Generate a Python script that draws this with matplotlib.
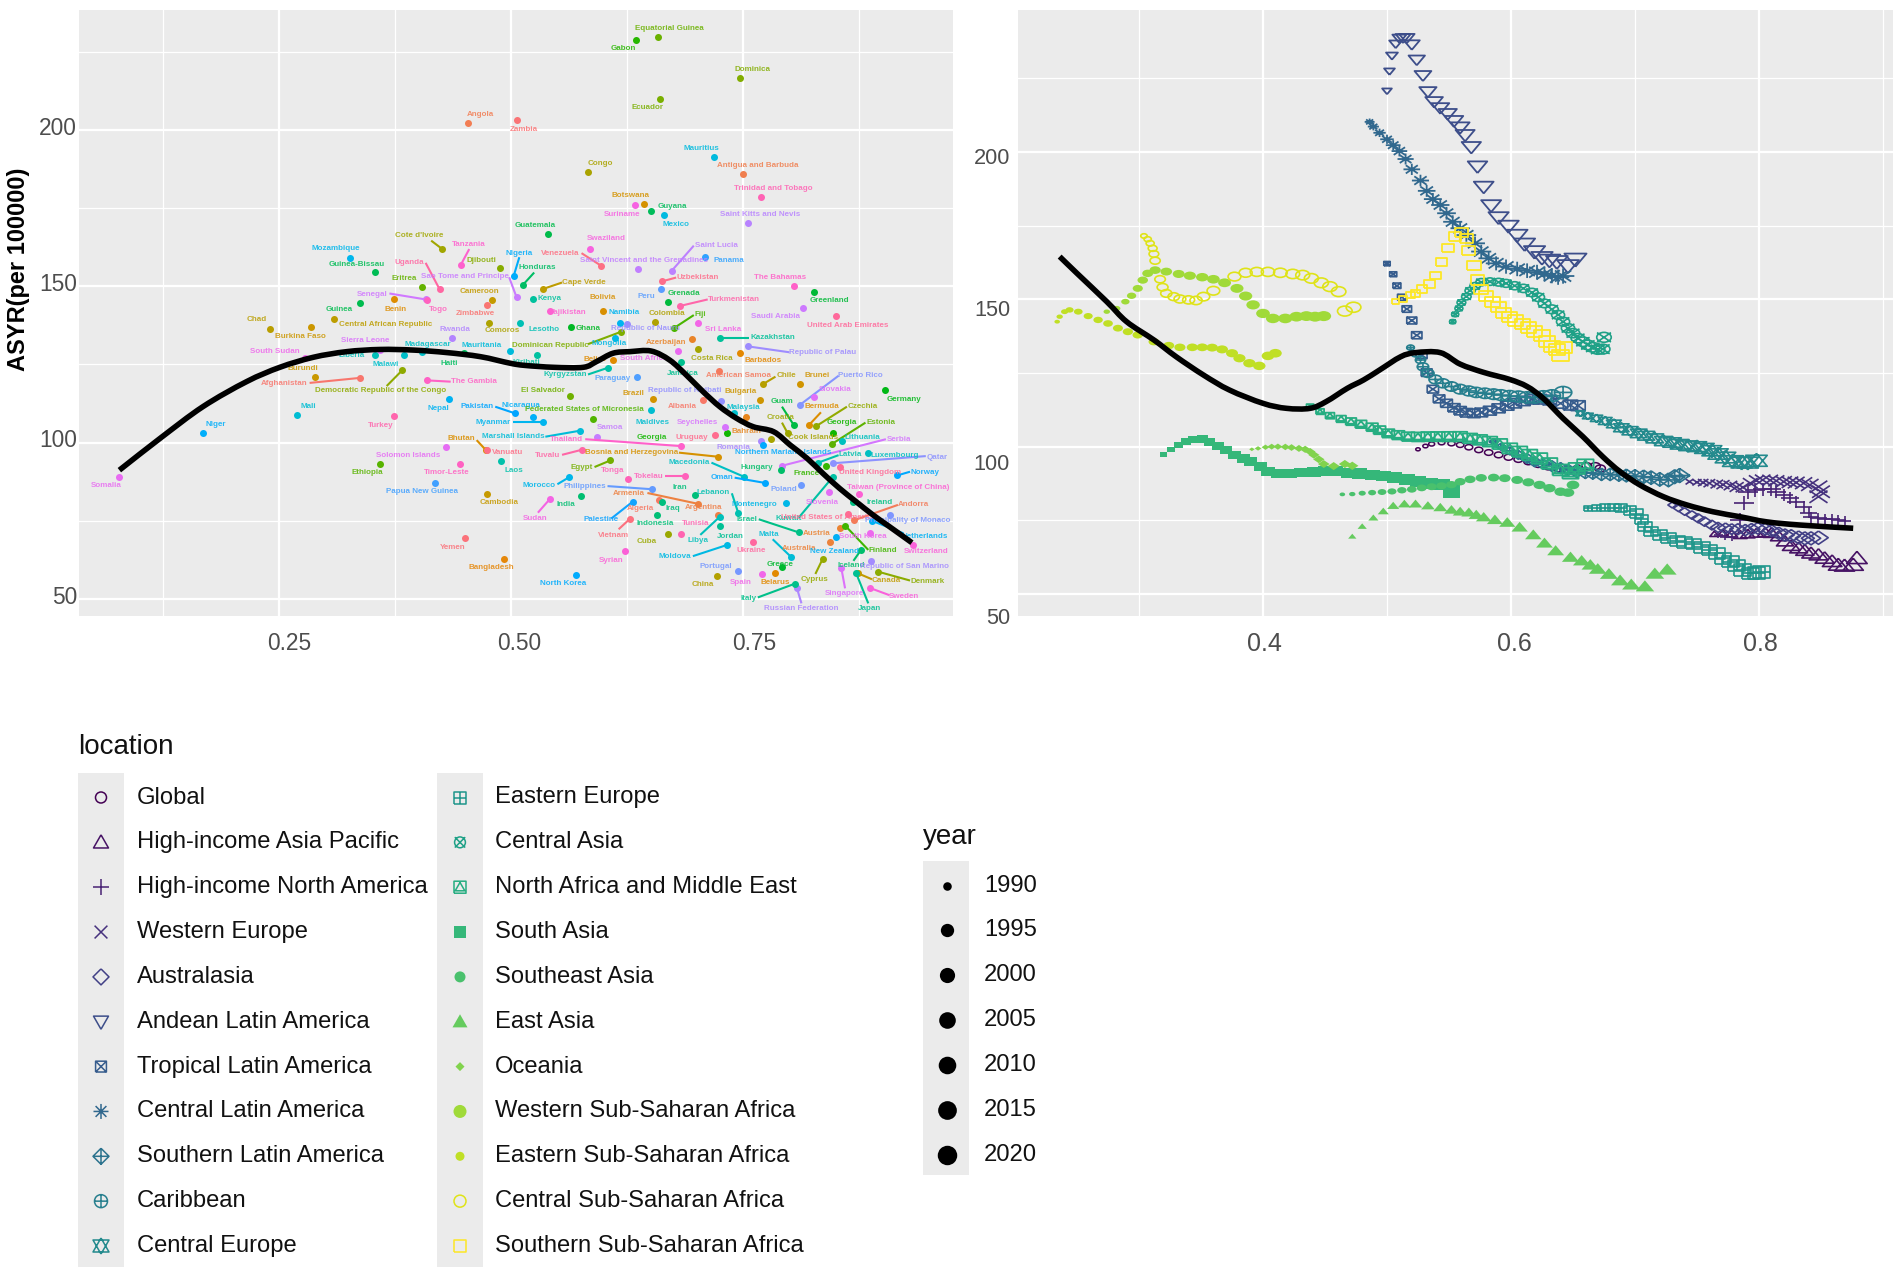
import numpy as np
import matplotlib
matplotlib.use("Agg")
import matplotlib.pyplot as plt
from matplotlib.path import Path
from matplotlib.patches import Rectangle, PathPatch

plt.rcParams['font.family'] = ['Liberation Sans', 'DejaVu Sans']

# ---------------- left panel: countries ----------------
country_names = [
 "Angola","Zambia","Cote d'Ivoire","Tanzania","Mozambique",
 "Guinea-Bissau","Uganda","Djibouti","Nigeria","Eritrea",
 "Sao Tome and Principe","Honduras","Senegal","Benin","Togo",
 "Cameroon","Guinea","Zimbabwe","Chad","Burkina Faso",
 "Central African Republic","Comoros","Rwanda","Lesotho","Kenya",
 # block 2
 "Equatorial Guinea","Gabon","Dominica","Ecuador","Mauritius",
 "Congo","Antigua and Barbuda","Trinidad and Tobago","Botswana","Suriname",
 "Guyana","Mexico","Saint Kitts and Nevis","Guatemala","Swaziland",
 "Venezuela","Saint Lucia","Panama","Saint Vincent and the Grenadines","Uzbekistan",
 "The Bahamas","Greenland","Cape Verde","Peru","Grenada",
 "Bolivia","Turkmenistan","Saudi Arabia","United Arab Emirates","Tajikistan",
 "Namibia","Colombia","Fiji","Sri Lanka","Ghana",
 "Republic of Nauru","Kazakhstan",
 # block 3
 "South Sudan","Sierra Leone","Burundi","Afghanistan","Liberia",
 "Madagascar","Malawi","Democratic Republic of the Congo","Mauritania","Haiti",
 "The Gambia","Kiribati","Dominican Republic","Mongolia","Belize",
 "Mali","Niger","Somalia","Turkey","Nepal",
 "Pakistan","Nicaragua","Myanmar","Federated States of Micronesia","El Salvador",
 "Kyrgyzstan","Paraguay","Bhutan","Vanuatu","Marshall Islands",
 "Solomon Islands","Laos","Ethiopia","Timor-Leste","Papua New Guinea",
 "Cambodia","Yemen","Bangladesh",
 # block 4
 "Azerbaijan","Costa Rica","Republic of Palau","Barbados","South Africa",
 "Jamaica","American Samoa","Chile","Brunei","Puerto Rico",
 "Slovakia","Germany","Brazil","Republic of Kiribati","Bulgaria",
 "Albania","Malaysia","Bahrain","Guam","Bermuda",
 "Czechia","Croatia","Georgia","Estonia","Georgia",
 "Uruguay","Seychelles","Maldives","Samoa","Thailand",
 "Cook Islands","Lithuania","Serbia","Romania","Northern Mariana Islands",
 "Bosnia and Herzegovina","Tuvalu","Egypt","Tonga","Macedonia",
 "Hungary","Latvia","France","Luxembourg","Qatar",
 "Norway","United Kingdom","Oman","Tokelau","Morocco",
 "Philippines","India","Iran","Lebanon","Poland",
 "Taiwan (Province of China)","Slovenia","Sudan","Armenia","Argentina",
 "Montenegro","Palestine","Vietnam","Algeria","Iraq",
 "Indonesia","Tunisia","Cuba","Syrian","Libya",
 "Jordan","Moldova","Israel","Kuwait","United States of America",
 "Austria","Malta","Ukraine","Australia","South Korea",
 "Finland","Ireland","Andorra","Principality of Monaco","Netherlands",
 "Switzerland","New Zealand","Iceland","Republic of San Marino","Denmark",
 "Canada","Japan","Sweden","Singapore","Russian Federation",
 "Italy","Cyprus","Greece","Belarus","Spain",
 "Portugal","China","North Korea",
]
country_sdi = [
 .454,.506,.426,.446,.326, .353,.423,.488,.503,.404,
 .506,.513,.408,.374,.409, .480,.337,.474,.240,.285,
 .309,.476,.436,.510,.524,
 .658,.635,.747,.661,.719, .583,.750,.769,.643,.634,
 .651,.665,.755,.540,.585, .597,.673,.709,.637,.663,
 .805,.826,.534,.662,.669, .599,.682,.815,.850,.542,
 .618,.655,.676,.702,.565, .625,.725,
 .278,.359,.289,.337,.353, .404,.385,.383,.499,.449,
 .410,.528,.619,.612,.610, .269,.168,.078,.374,.433,
 .504,.524,.534,.588,.564, .604,.636,.473,.474,.574,
 .430,.489,.359,.445,.418, .474,.450,.492,
 .695,.701,.755,.747,.680, .683,.724,.772,.811,.811,
 .826,.903,.653,.726,.768, .707,.740,.753,.805,.821,
 .829,.798,.847,.846,.733, .720,.731,.651,.593,.683,
 .780,.857,.792,.769,.772, .723,.576,.607,.626,.751,
 .791,.831,.839,.885,.847, .916,.854,.774,.687,.563,
 .652,.575,.698,.745,.812, .875,.843,.542,.702,.723,
 .796,.631,.628,.660,.663, .657,.683,.669,.623,.725,
 .725,.733,.810,.847,.863, .854,.802,.761,.844,.887,
 .860,.869,.870,.908,.889, .933,.850,.877,.888,.896,
 .874,.872,.887,.856,.808, .806,.836,.792,.785,.770,
 .745,.722,.570,
]
country_asyr = [
 202.2,203.2,161.9,156.9,158.9, 154.6,149.1,155.7,153.4,149.7,
 146.5,150.5,145.8,146.0,145.6, 145.5,144.7,143.9,136.5,136.9,
 139.4,138.3,133.5,138.4,145.9,
 229.6,228.8,216.5,209.8,191.4, 186.6,185.8,178.6,176.3,175.9,
 174.2,172.8,170.2,166.6,161.8, 156.6,154.9,159.3,155.5,151.6,
 150.1,148.3,149.1,149.0,145.1, 142.2,143.7,143.1,140.5,142.1,
 138.4,138.7,136.7,138.4,137.1, 138.0,133.5,
 127.2,129.6,121.1,120.7,127.9, 129.1,127.9,123.2,129.3,128.6,
 119.9,128.1,135.5,133.4,126.4, 108.8,103.1,89.1,108.6,114.0,
 109.4,108.3,106.7,107.7,114.9, 123.9,121.0,97.6,97.6,103.8,
 98.5,94.1,93.3,93.2,87.2, 83.7,69.5,62.8,
 133.2,129.9,130.8,128.7,129.2, 125.9,123.0,118.8,118.8,112.0,
 114.5,116.7,114.1,113.3,113.7, 113.6,109.4,108.3,105.5,105.6,
 105.3,103.1,103.2,99.6,103.2, 102.4,104.9,110.4,101.8,98.9,
 101.1,100.6,92.6,100.6,99.2, 95.5,97.7,94.3,88.4,89.1,
 91.2,93.6,92.5,96.6,93.4, 89.5,92.2,87.1,89.2,89.0,
 85.1,82.8,83.1,77.4,86.3, 83.7,84.1,82.0,80.4,76.9,
 80.6,81.1,75.6,81.7,80.9, 76.9,70.9,70.7,65.3,76.3,
 73.2,67.3,71.3,89.1,77.1, 72.7,63.4,68.3,68.3,71.0,
 73.5,81.1,75.2,76.9,75.0, 67.3,69.7,65.6,62.1,58.7,
 58.2,58.2,53.5,59.8,53.6, 54.9,62.9,60.1,58.4,58.1,
 59.1,57.5,57.8,
]
label_x = [
 .467,.514,.401,.454,.311, .334,.390,.468,.509,.385,
 .450,.528,.350,.376,.422, .466,.315,.462,.226,.273,
 .365,.491,.440,.536,.542,
 .671,.621,.760,.647,.705, .596,.766,.783,.629,.620,
 .674,.678,.768,.526,.603, .553,.721,.735,.643,.701,
 .790,.843,.578,.646,.686, .599,.740,.785,.863,.562,
 .622,.668,.704,.729,.583, .645,.782,
 .246,.343,.276,.256,.328, .410,.365,.359,.468,.434,
 .460,.517,.542,.606,.590, .282,.182,.064,.360,.422,
 .463,.511,.481,.579,.534, .559,.609,.446,.496,.503,
 .389,.503,.345,.431,.404, .487,.437,.479,
 .667,.716,.836,.772,.643, .685,.745,.797,.830,.877,
 .849,.924,.632,.687,.747, .685,.750,.754,.792,.835,
 .879,.790,.856,.899,.652, .695,.701,.652,.607,.560,
 .826,.879,.918,.740,.793, .630,.539,.576,.610,.692,
 .765,.865,.819,.913,.959, .946,.887,.727,.648,.530,
 .580,.559,.682,.718,.794, .917,.835,.526,.627,.708,
 .762,.597,.610,.639,.674, .655,.699,.646,.608,.701,
 .736,.677,.754,.799,.842, .829,.778,.759,.810,.879,
 .901,.897,.934,.928,.946, .947,.849,.867,.924,.949,
 .904,.886,.923,.859,.813, .756,.827,.790,.785,.748,
 .721,.707,.556,
]
label_y = [
 204.9,200.2,166.2,163.4,162.1, 157.1,157.7,158.3,160.6,152.4,
 153.1,155.9,147.4,142.7,142.7, 148.4,142.5,141.3,139.5,134.1,
 137.8,136.0,136.2,136.2,146.1,
 232.4,225.9,219.3,207.1,194.0, 189.2,188.7,181.4,179.0,173.1,
 175.6,169.9,173.1,169.3,165.2, 160.6,163.1,158.1,158.4,152.8,
 152.8,145.3,151.2,146.6,147.7, 146.3,145.8,140.3,137.5,141.6,
 141.6,141.2,140.9,136.2,136.6, 136.6,133.5,
 129.1,132.8,123.8,118.8,127.8, 131.5,125.1,116.6,131.0,125.4,
 119.4,125.6,131.2,131.7,126.6, 111.6,105.9,86.3,105.6,111.0,
 111.5,112.0,106.6,110.6,116.8, 121.8,120.6,101.3,96.9,101.9,
 96.0,91.2,90.3,90.3,84.4, 80.7,66.6,60.0,
 131.9,126.9,128.8,126.2,126.8, 122.2,121.6,121.6,121.6,121.6,
 116.9,113.7,115.7,116.6,116.5, 111.6,111.3,103.5,113.1,111.6,
 111.6,108.2,106.5,106.5,101.6, 101.7,106.6,106.6,104.7,101.1,
 101.6,101.6,101.1,98.5,96.9, 96.9,96.0,91.9,91.2,93.7,
 92.2,96.3,90.1,95.9,95.4, 90.6,90.6,88.8,89.1,86.2,
 86.0,80.1,85.7,84.0,85.1, 85.7,81.0,75.7,83.8,79.4,
 80.3,75.5,70.3,79.0,78.8, 74.1,74.1,68.5,62.2,68.8,
 70.0,63.5,75.4,75.9,76.0, 71.0,70.7,65.4,66.0,70.1,
 65.5,80.7,80.1,75.0,70.1, 65.1,65.3,60.8,60.3,55.7,
 55.9,46.9,50.7,51.6,46.9, 50.3,56.2,61.0,55.3,55.3,
 60.3,54.5,54.8,
]
leader_end = {
 "Cote d'Ivoire":(.414,164.6),"Tanzania":(.455,161.9),"Uganda":(.408,157.5),"Nigeria":(.509,159.3),
 "Sao Tome and Principe":(.498,152.9),"Honduras":(.525,154.4),"Senegal":(.369,147.7),
 "Venezuela":(.576,160.6),"Saint Lucia":(.697,163.0),"Uzbekistan":(.678,152.8),"Cape Verde":(.555,151.2),
 "Turkmenistan":(.712,145.8),"Fiji":(.697,140.8),"Kazakhstan":(.757,133.5),
 "Afghanistan":(.283,119.1),"Democratic Republic of the Congo":(.366,118.1),"The Gambia":(.435,119.5),
 "Dominican Republic":(.583,131.5),"Pakistan":(.483,111.5),"Myanmar":(.502,106.7),"Kyrgyzstan":(.583,121.8),
 "Bhutan":(.463,100.8),"Marshall Islands":(.537,101.9),
 "Republic of Palau":(.800,128.9),"Chile":(.785,121.1),"Puerto Rico":(.853,121.4),"Guam":(.792,111.5),
 "Bermuda":(.834,109.7),"Czechia":(.862,111.5),"Croatia":(.792,106.4),"Estonia":(.882,106.4),
 "Thailand":(.580,101.1),"Serbia":(.904,101.1),"Bosnia and Herzegovina":(.681,96.8),"Tuvalu":(.555,96.1),
 "Egypt":(.590,92.2),"Macedonia":(.716,93.6),"Latvia":(.853,96.0),"Qatar":(.947,95.7),"Norway":(.930,90.7),
 "Oman":(.741,88.8),"Tokelau":(.666,89.2),"Morocco":(.550,86.7),"Philippines":(.604,86.1),"Lebanon":(.738,83.8),
 "Sudan":(.529,77.6),"Armenia":(.647,83.9),"Palestine":(.608,75.7),"Vietnam":(.616,72.3),"Libya":(.704,70.5),
 "Moldova":(.696,63.7),"Israel":(.767,75.5),"Kuwait":(.810,76.0),"Malta":(.782,69.1),"Finland":(.885,65.7),
 "Andorra":(.917,80.1),"Netherlands":(.923,71.0),"Iceland":(.869,62.2),"Denmark":(.930,55.9),"Canada":(.889,56.3),
 "Japan":(.885,48.6),"Sweden":(.908,51.2),"Singapore":(.860,53.4),"Russian Federation":(.813,48.6),"Italy":(.766,50.5),
 "Cyprus":(.828,58.0),
}
left_curve_x = [.078,.122,.168,.215,.251,.287,.323,.359,.395,.431,.467,.499,.515,.546,.578,.592,.610,.628,.651,.671,
                .689,.707,.725,.743,.761,.783,.801,.819,.836,.854,.872,.890,.908,.932]
left_curve_y = [91.2,101.4,111.5,119.5,124.1,127.3,129.1,129.8,129.6,128.8,127.5,125.4,124.7,124.1,124.1,125.9,128.6,129.1,129.3,126.4,
                121.6,116.3,111.5,107.8,105.1,103.5,99.2,95.0,90.2,85.4,81.1,76.9,73.1,68.0]

# ---------------- right panel: regions ----------------
global_x = [.525,.531,.536,.544,.552,.559,.566,.574,.582,.590,.598,.606,.614,.622,.630,.638,.646,.654,.661,.668,.672]
global_y = [99.1,100.2,100.9,101.4,101.1,100.6,99.8,98.9,98.0,97.2,96.4,95.7,94.9,94.0,93.2,92.6,92.1,92.6,93.4,93.4,92.6]
hi_asia_x = [.764,.771,.778,.785,.791,.798,.805,.810,.816,.821,.826,.832,.837,.842,.848,.853,.859,.864,.869,.876,.879]
hi_asia_y = [70.3,70.6,70.3,70.0,70.3,70.6,70.8,70.6,69.5,67.8,66.3,65.5,64.7,63.8,63.2,62.1,61.0,59.8,59.5,59.8,62.1]
hi_na_x = [.767,.773,.778,.869,.864,.859,.853,.848,.842,.840,.836,.830,.825,.820,.814,.810,.803,.797,.791,.785,.788]
hi_na_y = [70.0,69.5,69.3,74.8,75.1,75.3,75.5,75.7,76.0,77.6,79.6,81.3,82.5,83.6,84.7,85.5,85.5,85.3,84.7,75.1,80.8]
w_europe_x = [.744,.750,.755,.760,.766,.771,.777,.782,.787,.793,.798,.803,.809,.814,.820,.825,.830,.836,.841,.848,.850,.848]
w_europe_y = [88.1,87.9,87.8,87.6,87.3,87.1,86.8,86.3,86.2,87.6,88.5,88.7,88.6,88.4,88.1,87.9,87.8,87.6,87.0,86.4,84.7,83.0]
australasia_x = [.730,.735,.740,.746,.751,.756,.762,.767,.773,.778,.783,.789,.794,.799,.805,.810,.816,.821,.826,.832,.837,.842,.848]
australasia_y = [80.2,79.1,78.0,76.8,75.7,74.6,73.4,72.6,72.3,72.0,72.0,71.7,72.0,72.3,72.0,71.5,70.6,70.0,69.7,69.2,68.9,68.9,69.1]
andean_x = [.500,.502,.504,.507,.510,.513,.516,.520,.524,.529,.533,.538,.543,.549,.554,.559,.563,.568,.573,.578,.584,
            .590,.598,.605,.611,.619,.625,.631,.637,.646,.652]
andean_y = [220.7,227.4,232.7,236.7,238.6,238.7,238.7,236.5,231.3,226.0,220.5,217.1,215.0,213.0,210.6,208.4,205.8,201.7,195.1,188.2,181.9,
            177.8,174.9,171.8,168.8,166.2,164.2,163.3,162.8,161.4,163.6]
tropical_x = [.500,.505,.508,.512,.516,.520,.524,.528,.532,.537,.542,.548,.554,.559,.564,.570,.576,.583,.590,.597,.603,.610,.617,.623,.631,.640,.648,.654]
tropical_y = [162.1,158.5,154.6,150.7,146.7,142.8,137.8,131.1,125.1,119.5,116.2,114.7,113.2,112.2,111.5,111.3,111.6,112.2,113.0,113.9,114.7,115.5,116.1,116.1,115.8,114.7,114.1,113.9]
central_la_x = [.486,.489,.494,.500,.505,.510,.515,.520,.527,.532,.537,.543,.548,.553,.559,.564,.571,.576,.582,.588,.596,.605,.613,.621,.627,.633,.638,.642]
central_la_y = [210.2,208.6,206.5,204.3,202.3,200.3,197.6,194.1,190.3,186.8,184.0,182.0,179.2,176.3,174.1,171.8,169.0,166.2,163.9,162.2,161.1,160.3,159.7,159.2,158.6,158.0,157.5,157.9]
southern_la_x = [.586,.592,.599,.606,.613,.619,.626,.633,.640,.646,.653,.660,.666,.673,.680,.687,.693,.700,.707,.713,.720,.727,.732,.736]
southern_la_y = [101.7,100.0,98.6,97.2,96.0,94.9,94.1,93.4,92.7,92.1,91.5,91.2,91.0,90.6,90.6,90.4,90.2,90.0,89.8,89.5,88.9,88.7,89.8,90.2]
caribbean_x = [.519,.523,.527,.529,.533,.539,.545,.552,.559,.566,.572,.579,.586,.592,.599,.606,.613,.619,.626,.633,.642]
caribbean_y = [133.6,131.5,129.4,127.1,124.9,122.8,121.5,120.4,119.5,118.9,118.4,118.1,117.8,117.5,117.2,117.0,116.7,116.7,117.0,117.3,118.4]
c_europe_x = [.656,.662,.669,.676,.683,.689,.696,.703,.709,.716,.723,.730,.736,.743,.750,.756,.762,.767,.773,.779,.786,.791,.798]
c_europe_y = [111.3,110.4,109.6,108.7,107.7,106.4,105.4,104.5,103.7,102.8,101.9,101.4,100.8,100.3,100.0,99.4,98.6,97.5,96.3,95.1,94.6,94.6,95.2]
e_europe_x = [.662,.669,.676,.683,.689,.696,.701,.705,.708,.713,.720,.727,.734,.740,.747,.754,.760,.766,.771,.777,.782,.787,.793,.798,.802]
e_europe_y = [79.1,79.1,79.3,79.3,79.1,78.3,77.2,75.3,72.9,71.2,70.0,68.9,68.1,67.5,66.9,65.8,64.9,63.8,62.1,61.0,59.6,58.2,57.0,57.0,57.6]
c_asia_x = [.553,.555,.558,.560,.564,.567,.571,.576,.583,.590,.596,.603,.610,.617,.622,.627,.633,.638,.642,.646,.650,.654,.658,.662,.666,.670,.674,.675]
c_asia_y = [142.4,144.9,146.9,148.9,150.9,152.9,154.5,155.8,156.0,155.8,155.4,154.6,153.7,152.3,150.7,148.6,146.6,144.7,142.4,140.2,138.5,136.8,135.6,134.5,133.7,133.0,133.1,137.1]
name_x = [.438,.446,.454,.463,.471,.479,.488,.494,.501,.509,.517,.525,.533,.541,.550,.559,.567,.575,.583,.591,.599,.607,.615,.623,.631,.640,.648,.653,.660]
name_y = [113.6,111.9,110.5,109.4,108.5,107.6,106.6,105.6,104.5,103.9,103.4,103.3,103.4,103.4,103.4,103.4,102.8,102.3,101.7,100.9,99.4,98.3,97.2,96.0,94.3,92.1,91.0,92.6,93.8]
s_asia_x = [.320,.326,.332,.338,.344,.351,.357,.364,.370,.377,.384,.390,.398,.404,.412,.422,.431,.441,.450,.459,.469,.478,.488,.497,.506,.516,.525,.535,.544,.552,.552]
s_asia_y = [97.2,99.1,100.5,101.7,102.3,102.5,101.7,100.2,98.9,97.2,96.0,94.9,93.2,91.5,90.9,90.9,91.2,91.5,91.7,91.7,91.2,90.9,90.4,90.0,89.6,88.9,88.3,87.6,87.0,85.9,84.4]
se_asia_x = [.464,.472,.480,.488,.496,.504,.512,.520,.528,.536,.544,.552,.559,.567,.576,.586,.595,.605,.614,.623,.631,.640,.646,.650]
se_asia_y = [83.8,83.9,84.2,84.4,84.6,84.8,85.2,85.5,86.0,86.4,86.7,87.1,88.1,88.9,89.4,89.5,89.3,88.7,87.9,87.0,85.9,84.7,84.4,87.0]
e_asia_x = [.472,.480,.489,.497,.505,.514,.523,.533,.543,.552,.559,.566,.572,.578,.587,.597,.607,.618,.627,.636,.648,.657,.664,.670,.679,.688,.697,.708,.716,.726]
e_asia_y = [69.5,72.9,75.8,78.0,79.9,80.5,80.5,79.9,79.3,78.5,77.9,77.6,76.8,76.0,75.1,74.2,72.6,70.0,67.2,64.6,62.4,61.2,59.8,58.4,56.7,54.5,53.1,52.5,56.8,58.2]
oceania_x = [.391,.396,.402,.407,.412,.418,.423,.429,.434,.438,.441,.445,.449,.457,.466,.472]
oceania_y = [99.1,99.4,99.8,100.0,100.0,99.9,99.7,99.4,99.1,98.3,97.2,95.7,94.1,93.4,94.1,93.5]
w_ssa_x = [.274,.282,.289,.294,.299,.303,.307,.313,.322,.332,.341,.351,.360,.369,.379,.386,.392,.400,.408,.418,.427,.435,.442,.449]
w_ssa_y = [145.8,146.9,149.2,151.2,153.7,156.5,158.8,159.9,159.4,158.6,158.0,157.5,156.8,155.6,153.7,151.1,148.1,145.2,143.5,143.5,144.1,144.3,144.1,144.3]
e_ssa_x = [.234,.236,.240,.244,.251,.259,.267,.275,.283,.291,.299,.312,.324,.333,.343,.351,.359,.367,.375,.381,.389,.397,.404,.410]
e_ssa_y = [142.4,144.1,145.8,146.4,145.8,144.3,143.0,141.8,140.2,139.0,137.9,135.6,134.3,133.7,133.7,133.7,133.6,133.0,131.7,130.0,128.3,127.4,130.8,131.7]
c_ssa_x = [.304,.307,.309,.311,.312,.313,.317,.319,.322,.328,.333,.340,.346,.352,.360,.377,.386,.395,.404,.414,.424,.432,.439,.447,.454,.461,.466,.473]
c_ssa_y = [171.5,170.4,169.0,167.3,165.4,163.1,156.8,154.1,152.0,150.9,150.1,149.8,149.6,150.9,152.9,157.7,159.0,159.3,159.3,159.0,158.6,158.2,157.1,155.6,154.3,152.6,146.0,147.3]
s_ssa_x = [.507,.513,.519,.523,.528,.534,.539,.544,.549,.555,.560,.564,.566,.570,.573,.576,.580,.585,.590,.594,.599,.604,.609,.614,.619,.625,.629,.633,.637,.643,.640]
s_ssa_y = [149.2,150.1,151.5,152.0,153.5,155.2,158.1,162.5,167.4,171.3,172.7,170.7,166.6,161.4,156.6,153.4,151.1,149.1,147.3,145.2,143.9,142.8,141.6,140.5,139.0,137.6,135.6,133.9,132.8,133.6,130.8]
right_curve_x = [.236,.250,.274,.290,.312,.330,.352,.373,.400,.419,.438,.451,.468,.481,.494,.511,.523,.543,.559,.578,.599,.613,.626,.642,.658,.674,.688,.704,.723,.742,.763,.785,.806,.833,.876]
right_curve_y = [164.5,158.8,149.2,142.4,136.2,130.5,124.3,119.2,114.7,113.0,113.0,115.3,119.8,122.6,126.0,130.5,131.9,131.9,128.0,125.2,122.8,120.4,116.4,109.6,103.4,96.6,91.5,87.0,83.0,80.2,77.9,76.2,74.5,73.4,72.3]

legend_years = [1990,1995,2000,2005,2010,2015,2020]
left_yticks = [50,100,150,200]
left_xticks = [0.25,0.50,0.75]
right_yticks = [50,100,150,200]
right_xticks = [0.4,0.6,0.8]

location_names = ["Global","High-income Asia Pacific","High-income North America","Western Europe","Australasia",
 "Andean Latin America","Tropical Latin America","Central Latin America","Southern Latin America","Caribbean","Central Europe",
 "Eastern Europe","Central Asia","North Africa and Middle East","South Asia","Southeast Asia","East Asia","Oceania",
 "Western Sub-Saharan Africa","Eastern Sub-Saharan Africa","Central Sub-Saharan Africa","Southern Sub-Saharan Africa"]
location_x = [global_x,hi_asia_x,hi_na_x,w_europe_x,australasia_x,andean_x,tropical_x,central_la_x,southern_la_x,caribbean_x,c_europe_x,
              e_europe_x,c_asia_x,name_x,s_asia_x,se_asia_x,e_asia_x,oceania_x,w_ssa_x,e_ssa_x,c_ssa_x,s_ssa_x]
location_y = [global_y,hi_asia_y,hi_na_y,w_europe_y,australasia_y,andean_y,tropical_y,central_la_y,southern_la_y,caribbean_y,c_europe_y,
              e_europe_y,c_asia_y,name_y,s_asia_y,se_asia_y,e_asia_y,oceania_y,w_ssa_y,e_ssa_y,c_ssa_y,s_ssa_y]

# ---------------- marker shapes ----------------
def seg(*pts):
    codes = [Path.MOVETO] + [Path.LINETO]*(len(pts)-1)
    return Path(np.array(pts, float), codes)
def join(*paths):
    return Path.make_compound_path(*paths)
circle = Path.unit_circle()
square = seg((-1,-1),(1,-1),(1,1),(-1,1),(-1,-1))
tri_up = seg((0,1),(1,-.75),(-1,-.75),(0,1))
tri_dn = seg((0,-1),(1,.75),(-1,.75),(0,-1))
diamond = seg((0,1),(1,0),(0,-1),(-1,0),(0,1))
plus = join(seg((-1,0),(1,0)), seg((0,-1),(0,1)))
cross = join(seg((-.8,-.8),(.8,.8)), seg((-.8,.8),(.8,-.8)), seg((-1,0),(-1,0)))
aster = join(plus, seg((-.72,-.72),(.72,.72)), seg((-.72,.72),(.72,-.72)))
def scaled(p, k):
    return Path(p.vertices*k, p.codes)
# (path, filled, width factor vs. year size, edge width pt, legend width px)
shapes = [
 (circle,                      False,.50,1.1,11),
 (tri_up,                      False,1.0,1.2,15),
 (plus,                        False,1.0,1.2,16),
 (cross,                       False,1.1,1.2,16),
 (diamond,                     False,.95,1.2,16),
 (tri_dn,                      False,1.08,1.3,15),
 (join(square,scaled(cross,1.2)),False,.85,1.2,13),
 (aster,                       False,1.1,1.3,15),
 (join(diamond,plus),          False,1.0,1.2,16),
 (join(circle,plus),           False,.85,1.2,13),
 (join(tri_up,tri_dn),         False,1.05,1.2,16),
 (join(square,plus),           False,.85,1.2,12),
 (join(circle,scaled(cross,1.2)),False,.85,1.2,13),
 (join(square,scaled(tri_up,.8)),False,.8,1.3,12),
 (square,                      True,.8,0,12),
 (circle,                      True,.62,0,11),
 (tri_up,                      True,.92,0,15),
 (diamond,                     True,.6,0,9),
 (circle,                      True,.72,0,13),
 (circle,                      True,.62,0,9),
 (circle,                      False,.72,1.2,12),
 (square,                      False,.8,1.3,12),
]
SQUASH = 0.68   # right panel was stretched horizontally in the reference
def squash(p):
    return Path(p.vertices*np.array([1, SQUASH]), p.codes)
legend_diam = [9,14,16,17.5,18.5,19.7,20.5]
def year_width(years):
    return np.interp(years, legend_years, legend_diam)
def px2s(w):
    return (np.asarray(w)*0.72)**2

colors = [plt.cm.viridis(i/21) for i in range(22)]

def hcl(h, c=100.0, l=65.0):
    hr = np.deg2rad(h)
    u, v = c*np.cos(hr), c*np.sin(hr)
    Y = ((l+16)/116)**3
    un, vn = 0.19784, 0.46834
    up, vp = u/(13*l)+un, v/(13*l)+vn
    X = 9*Y*up/(4*vp)
    Z = Y*(12-3*up-20*vp)/(4*vp)
    lin = np.array([[3.2406,-1.5372,-0.4986],[-0.9689,1.8758,0.0415],[0.0557,-0.2040,1.0570]]).dot([X,Y,Z])
    lin = np.clip(lin,0,1)
    return tuple(np.where(lin<=0.0031308, 12.92*lin, 1.055*lin**(1/2.4)-0.055))

def smooth_path(xs, ys):
    """Catmull-Rom through the read points, as Bezier path segments."""
    p = np.column_stack([xs, ys])
    t = np.vstack([p[1]-p[0], (p[2:]-p[:-2])/2, p[-1]-p[-2]])
    verts = [p[0]]
    codes = [Path.MOVETO]
    for i in range(len(p)-1):
        verts += [p[i]+t[i]/3, p[i+1]-t[i+1]/3, p[i+1]]
        codes += [Path.CURVE4]*3
    return Path(np.array(verts), codes)

# ---------------- figure ----------------
W, H = 1902, 1277
fig = plt.figure(figsize=(W/100, H/100), dpi=100, facecolor='white')
def axes_px(l, t, r, b):
    return fig.add_axes([l/W, 1-b/H, (r-l)/W, (b-t)/H])

GRID_BG = '#EBEBEB'
def style(ax, xlim, ylim, xmajor, xminor, ymajor, yminor):
    ax.set_facecolor(GRID_BG)
    ax.set_xlim(*xlim); ax.set_ylim(*ylim)
    for s in ax.spines.values():
        s.set_visible(False)
    ax.set_xticks(xmajor); ax.set_yticks(ymajor)
    ax.set_xticks(xminor, minor=True); ax.set_yticks(yminor, minor=True)
    ax.tick_params(which='both', length=0, labelbottom=False, labelleft=False)
    ax.grid(True, which='major', color='white', lw=1.6)
    ax.grid(True, which='minor', color='white', lw=0.9)
    ax.set_axisbelow(True)

axL = axes_px(79, 10, 953, 616)
style(axL, (.0345,.9763), (44.56,238.36), left_xticks, [.125,.375,.625,.875], left_yticks, [75,125,175,225])
axR = axes_px(1018, 10, 1893, 616)
style(axR, (.2024,.9081), (42.53,248.17), right_xticks, [.3,.5,.7,.9], right_yticks, [75,125,175,225])

# left panel
uniq = sorted(set(country_names))
hue = {n: hcl(15+360*i/len(uniq)) for i, n in enumerate(uniq)}
for name, px_, py_, lx, ly in zip(country_names, country_sdi, country_asyr, label_x, label_y):
    col = hue[name]
    if name in leader_end:
        ex, ey = leader_end[name]
        axL.plot([px_, ex], [py_, ey], color=col, lw=1.5, solid_capstyle='butt', zorder=3)
    axL.scatter([px_], [py_], s=px2s(7.0), color=col, linewidths=0, zorder=3)
    axL.text(lx, ly, name, color=col, alpha=0.85, fontsize=5.8, fontweight='bold', ha='center', va='center', zorder=4)
axL.add_patch(PathPatch(smooth_path(left_curve_x, left_curve_y), facecolor='none', edgecolor='black',
                        lw=4.0, capstyle='butt', zorder=5))

# right panel
for (path, filled, k, lw, _), col, xs, ys in zip(shapes, colors, location_x, location_y):
    yrs = np.linspace(1990, 2020, len(xs))
    sizes = px2s(year_width(yrs)*k)
    mk = squash(path)
    if filled:
        axR.scatter(xs, ys, s=sizes, marker=mk, facecolors=[col], edgecolors='none', linewidths=0, zorder=3)
    else:
        axR.scatter(xs, ys, s=sizes, marker=mk, facecolors='none', edgecolors=[col], linewidths=lw, zorder=3)
axR.add_patch(PathPatch(smooth_path(right_curve_x, right_curve_y), facecolor='none', edgecolor='black',
                        lw=4.0, capstyle='butt', zorder=5))

# overlay in pixel units for tick labels and legends
ov = fig.add_axes([0,0,1,1], facecolor='none')
ov.set_xlim(0, W); ov.set_ylim(H, 0); ov.axis('off')
TICK = '#4D4D4D'
for v, x in zip(left_xticks, [289, 519, 754]):
    ov.text(x, 643, f"{v:.2f}", color=TICK, fontsize=16.4, ha='center', va='center')
for v, y in zip(left_yticks, [597.5, 440.5, 284.5, 128.5]):
    ov.text(77, y, str(v), color=TICK, fontsize=16.4, ha='right', va='center')
for v, x in zip(right_xticks, [1264, 1514, 1760]):
    ov.text(x, 644, f"{v:.1f}", color=TICK, fontsize=18, ha='center', va='center')
for v, y in zip(right_yticks, [618.5, 464.5, 310.5, 158.5]):
    ov.text(1010, y, str(v), color=TICK, fontsize=15.7, ha='right', va='center')
ov.text(19, 269, "ASYR(per 100000)", color='black', fontsize=17, fontweight='bold', rotation=90, ha='center', va='center')

# location legend
ov.text(78, 747.5, "location", color='#111111', fontsize=20, ha='left', va='center')
row_y = lambda r: 797.5 + r*44.85
for kx in (78, 437):
    ov.add_patch(Rectangle((kx, 773), 46, 494, facecolor='#EBEBEB', edgecolor='none'))
for i, (name, col, sh) in enumerate(zip(location_names, colors, shapes)):
    c, r = divmod(i, 11)
    kx, tx = [(101, 137), (460, 495)][c]
    y = row_y(r)
    path, filled, _, lw, lw_px = sh
    if filled:
        ov.scatter([kx], [y], s=px2s(lw_px), marker=path, facecolors=[col], edgecolors='none', linewidths=0)
    else:
        ov.scatter([kx], [y], s=px2s(lw_px), marker=path, facecolors='none', edgecolors=[col], linewidths=1.1)
    ov.text(tx, y, name, color='#111111', fontsize=17.1, ha='left', va='center')

# year legend
ov.text(923, 836.5, "year", color='#111111', fontsize=20, ha='left', va='center')
ov.add_patch(Rectangle((923, 861), 46, 314, facecolor='#EBEBEB', edgecolor='none'))
for r, (yr, d) in enumerate(zip(legend_years, legend_diam)):
    y = 885.5 + r*44.85
    ov.scatter([947], [y], s=px2s(d*0.95), color='black', linewidths=0)
    ov.text(984, y, str(yr), color='#111111', fontsize=17.1, ha='left', va='center')

fig.savefig("out.png", dpi=100, facecolor='white')
